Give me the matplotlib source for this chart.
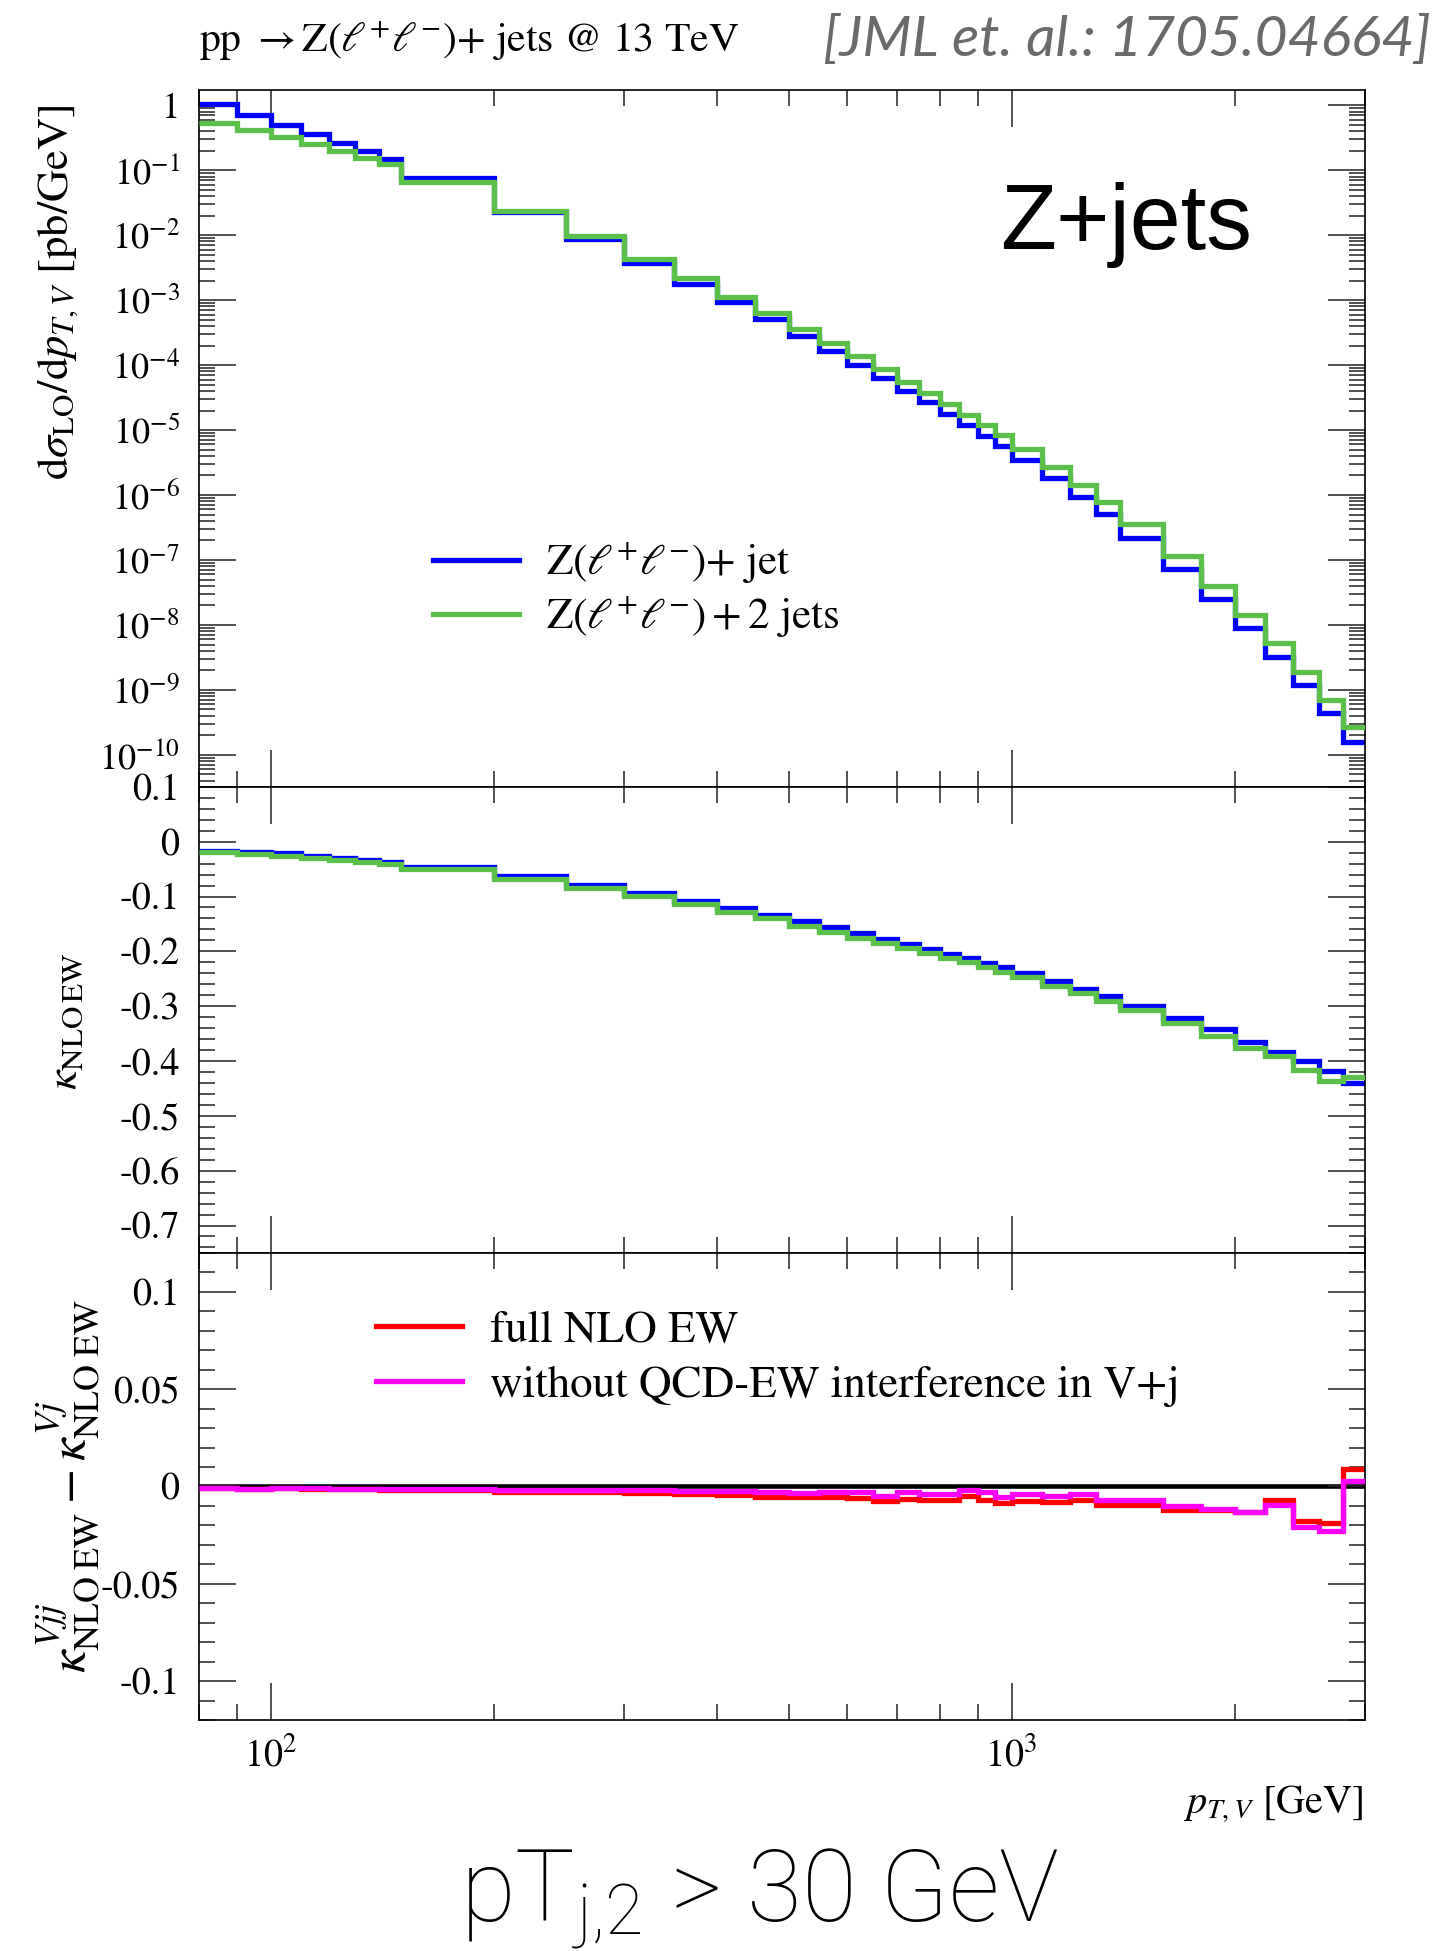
import numpy as np
import matplotlib
matplotlib.use("Agg")
import matplotlib.pyplot as plt
from matplotlib.ticker import LogLocator, MultipleLocator, FuncFormatter, NullFormatter

# fonts: serif text + stix math, like the original make-plots look
plt.rcParams['font.family'] = 'STIXGeneral'
plt.rcParams['mathtext.fontset'] = 'stix'
plt.rcParams['axes.unicode_minus'] = False

# bin edges in p_T,V [GeV]
edges = [80, 90, 100, 110, 120, 130, 140, 150, 200, 250, 300, 350, 400, 450, 500,
         550, 600, 650, 700, 750, 800, 850, 900, 950, 1000, 1100, 1200, 1300, 1400,
         1600, 1800, 2000, 2200, 2400, 2600, 2800, 3000]

# LO cross sections [pb/GeV]
sig_vj = [1.04, 0.72, 0.50, 0.36, 0.262, 0.197, 0.148, 0.075, 0.0228, 0.0086,
          0.0037, 0.0018, 9.4e-4, 5.05e-4, 2.85e-4, 1.66e-4, 1.01e-4, 6.4e-5,
          4.0e-5, 2.67e-5, 1.78e-5, 1.19e-5, 8.2e-6, 5.7e-6, 3.45e-6, 1.8e-6,
          9.4e-7, 5.1e-7, 2.15e-7, 7.3e-8, 2.5e-8, 8.9e-9, 3.26e-9, 1.19e-9,
          4.4e-10, 1.6e-10]
sig_vjj = [0.53, 0.42, 0.33, 0.254, 0.197, 0.156, 0.123, 0.065, 0.0235, 0.0098,
           0.00424, 0.00218, 1.12e-3, 6.3e-4, 3.65e-4, 2.2e-4, 1.37e-4, 8.7e-5,
           5.5e-5, 3.66e-5, 2.51e-5, 1.70e-5, 1.19e-5, 8.4e-6, 5.1e-6, 2.67e-6,
           1.43e-6, 7.9e-7, 3.54e-7, 1.17e-7, 4.0e-8, 1.43e-8, 5.2e-9, 1.91e-9,
           7.0e-10, 2.64e-10]

# NLO EW correction factors
kap_vj = [-0.0164, -0.0182, -0.0213, -0.026, -0.030, -0.033, -0.037, -0.0468,
          -0.0626, -0.0796, -0.094, -0.108, -0.1215, -0.134, -0.1455, -0.1565,
          -0.167, -0.177, -0.1865, -0.1956, -0.2047, -0.2126, -0.2205, -0.229,
          -0.239, -0.254, -0.268, -0.281, -0.299, -0.321, -0.342, -0.3645,
          -0.383, -0.400, -0.418, -0.440]
kap_vjj = [-0.0194, -0.0225, -0.026, -0.030, -0.034, -0.0377, -0.041, -0.050,
           -0.068, -0.0838, -0.0996, -0.114, -0.128, -0.140, -0.153, -0.164,
           -0.175, -0.185, -0.194, -0.2035, -0.2126, -0.220, -0.228, -0.238,
           -0.247, -0.2625, -0.2765, -0.290, -0.307, -0.331, -0.3536, -0.3755,
           -0.390, -0.416, -0.4356, -0.430]

# difference kappa(Vjj) - kappa(Vj)
dk_full = [-0.0007, -0.0015, -0.0010, -0.0012, -0.0013, -0.0014, -0.0016, -0.0020,
           -0.0028, -0.0030, -0.0033, -0.0038, -0.0043, -0.0055, -0.0055, -0.0055,
           -0.0057, -0.0076, -0.0062, -0.0069, -0.0069, -0.0050, -0.0067, -0.0084,
           -0.0076, -0.0079, -0.0071, -0.0097, -0.0097, -0.0122, -0.0122, -0.0133,
           -0.0067, -0.0176, -0.0188, 0.0088]
dk_noint = [-0.0007, -0.0012, -0.0009, -0.0010, -0.0011, -0.0012, -0.0013, -0.0015,
            -0.0017, -0.0018, -0.0019, -0.0021, -0.0021, -0.0028, -0.0033, -0.0031,
            -0.0029, -0.0050, -0.0031, -0.0038, -0.0038, -0.0017, -0.0031, -0.0055,
            -0.0041, -0.0048, -0.0041, -0.0069, -0.0069, -0.0102, -0.0116, -0.0131,
            -0.0093, -0.0210, -0.0231, 0.0028]

blue = '#0000ff'
green = '#5ac04a'
lw = 3.8

fig = plt.figure(figsize=(14.35, 19.51), dpi=100)
L, W = 0.1387, 0.8125
ax1 = fig.add_axes([L, 0.5966, W, 0.3573])
ax2 = fig.add_axes([L, 0.3578, W, 0.2389])
ax3 = fig.add_axes([L, 0.1184, W, 0.2394])

# top panel: LO distributions
ax1.stairs(sig_vj, edges, color=blue, lw=lw, baseline=None, zorder=2,
           label=r'$\mathrm{Z}(\ell^{+}\ell^{-})$+ jet')
ax1.stairs(sig_vjj, edges, color=green, lw=lw, baseline=None, zorder=3,
           label=r'$\mathrm{Z}(\ell^{+}\ell^{-}) + 2$ jets')
ax1.set_yscale('log')
ax1.set_ylim(3.2e-11, 1.72)
ax1.yaxis.set_major_locator(LogLocator(base=10, numticks=30))
ax1.yaxis.set_minor_locator(LogLocator(base=10, subs=np.arange(2, 10), numticks=30))
ax1.yaxis.set_minor_formatter(NullFormatter())
ax1.yaxis.set_major_formatter(FuncFormatter(
    lambda v, p: '1' if abs(v - 1) < 1e-9 else r'$10^{%d}$' % round(np.log10(v))))
ax1.legend(loc='center left', bbox_to_anchor=(0.2007, 0.282), frameon=False,
           fontsize=31, handlelength=2.0, handletextpad=0.62, borderpad=0,
           borderaxespad=0, labelspacing=0.2)

# middle panel: kappa NLO EW
ax2.stairs(kap_vj, edges, color=blue, lw=lw, baseline=None, zorder=2)
ax2.stairs(kap_vjj, edges, color=green, lw=lw, baseline=None, zorder=3)
ax2.set_ylim(-0.75, 0.1)
ax2.yaxis.set_major_locator(MultipleLocator(0.1))
ax2.yaxis.set_minor_locator(MultipleLocator(0.02))

# bottom panel: difference
ax3.axhline(0, color='black', lw=3.3, zorder=1)
ax3.stairs(dk_full, edges, color='#ff0000', lw=lw, baseline=None, zorder=2,
           label='full NLO EW')
ax3.stairs(dk_noint, edges, color='#ff00ff', lw=lw, baseline=None, zorder=3,
           label='without QCD-EW interference in V+j')
ax3.set_ylim(-0.12, 0.12)
ax3.yaxis.set_major_locator(MultipleLocator(0.05))
ax3.yaxis.set_minor_locator(MultipleLocator(0.01))
ax3.legend(loc='center left', bbox_to_anchor=(0.152, 0.774), frameon=False,
           fontsize=32.5, handlelength=1.9, handletextpad=0.62, borderpad=0,
           borderaxespad=0, labelspacing=0.3)

def lin_fmt(v, p):
    if abs(v) < 1e-9:
        return '0'
    return '%g' % round(v, 3)

for ax in (ax2, ax3):
    ax.yaxis.set_major_formatter(FuncFormatter(lin_fmt))

for ax in (ax1, ax2, ax3):
    ax.set_xscale('log')
    ax.set_xlim(80, 3000)
    ax.xaxis.set_major_locator(LogLocator(base=10, numticks=10))
    ax.xaxis.set_minor_locator(LogLocator(base=10, subs=np.arange(2, 10), numticks=20))
    ax.xaxis.set_minor_formatter(NullFormatter())
    ax.tick_params(which='both', direction='in', top=True, right=True,
                   labelsize=27.5, width=1.1, color='#222222')
    ax.tick_params(which='major', length=26.5)
    ax.tick_params(which='minor', length=11.5)
    ax.tick_params(axis='y', pad=14)
    ax.tick_params(axis='x', pad=12)
    for s in ax.spines.values():
        s.set_linewidth(1.2)

# slightly smaller log labels so the stacked powers do not collide
ax1.tick_params(axis='y', labelsize=26)
ax1.tick_params(labelbottom=False)
ax2.tick_params(labelbottom=False)

# axis labels
fig.text(0.040, 0.850, r'$\mathrm{d}\sigma_{\mathrm{LO}}/\mathrm{d}p_{T,V}$ [pb/GeV]',
         rotation=90, ha='center', va='center', fontsize=32)
fig.text(0.0463, 0.4767, r'$\kappa_{\mathrm{NLO\,EW}}$',
         rotation=90, ha='center', va='center', fontsize=32)
fig.text(0.0475, 0.2384,
         r'$\kappa^{Vjj}_{\mathrm{NLO\;EW}} - \kappa^{Vj}_{\mathrm{NLO\;EW}}$',
         rotation=90, ha='center', va='center', fontsize=37)
fig.text(0.950, 0.075, r'$p_{T,V}$ [GeV]', ha='right', va='center', fontsize=29)

# titles and annotations
fig.text(0.139, 0.979, r'pp $\rightarrow$Z$(\ell^{+}\ell^{-})$+ jets @ 13 TeV',
         ha='left', va='center', fontsize=30)
fig.text(0.997, 0.979, '[JML et. al.: 1705.04664]', ha='right', va='center',
         fontsize=41, family='Lato', style='italic', weight='normal', color='#6a6a6a')
fig.text(0.785, 0.8847, 'Z+jets', ha='center', va='center', fontsize=66,
         family='Liberation Sans')
fig.text(0.529, 0.027, r'pT$_\mathregular{j{,}2}$ > 30 GeV', ha='center', va='center',
         fontsize=72, family='Roboto', weight='light')

fig.savefig('out.png', dpi=100)
